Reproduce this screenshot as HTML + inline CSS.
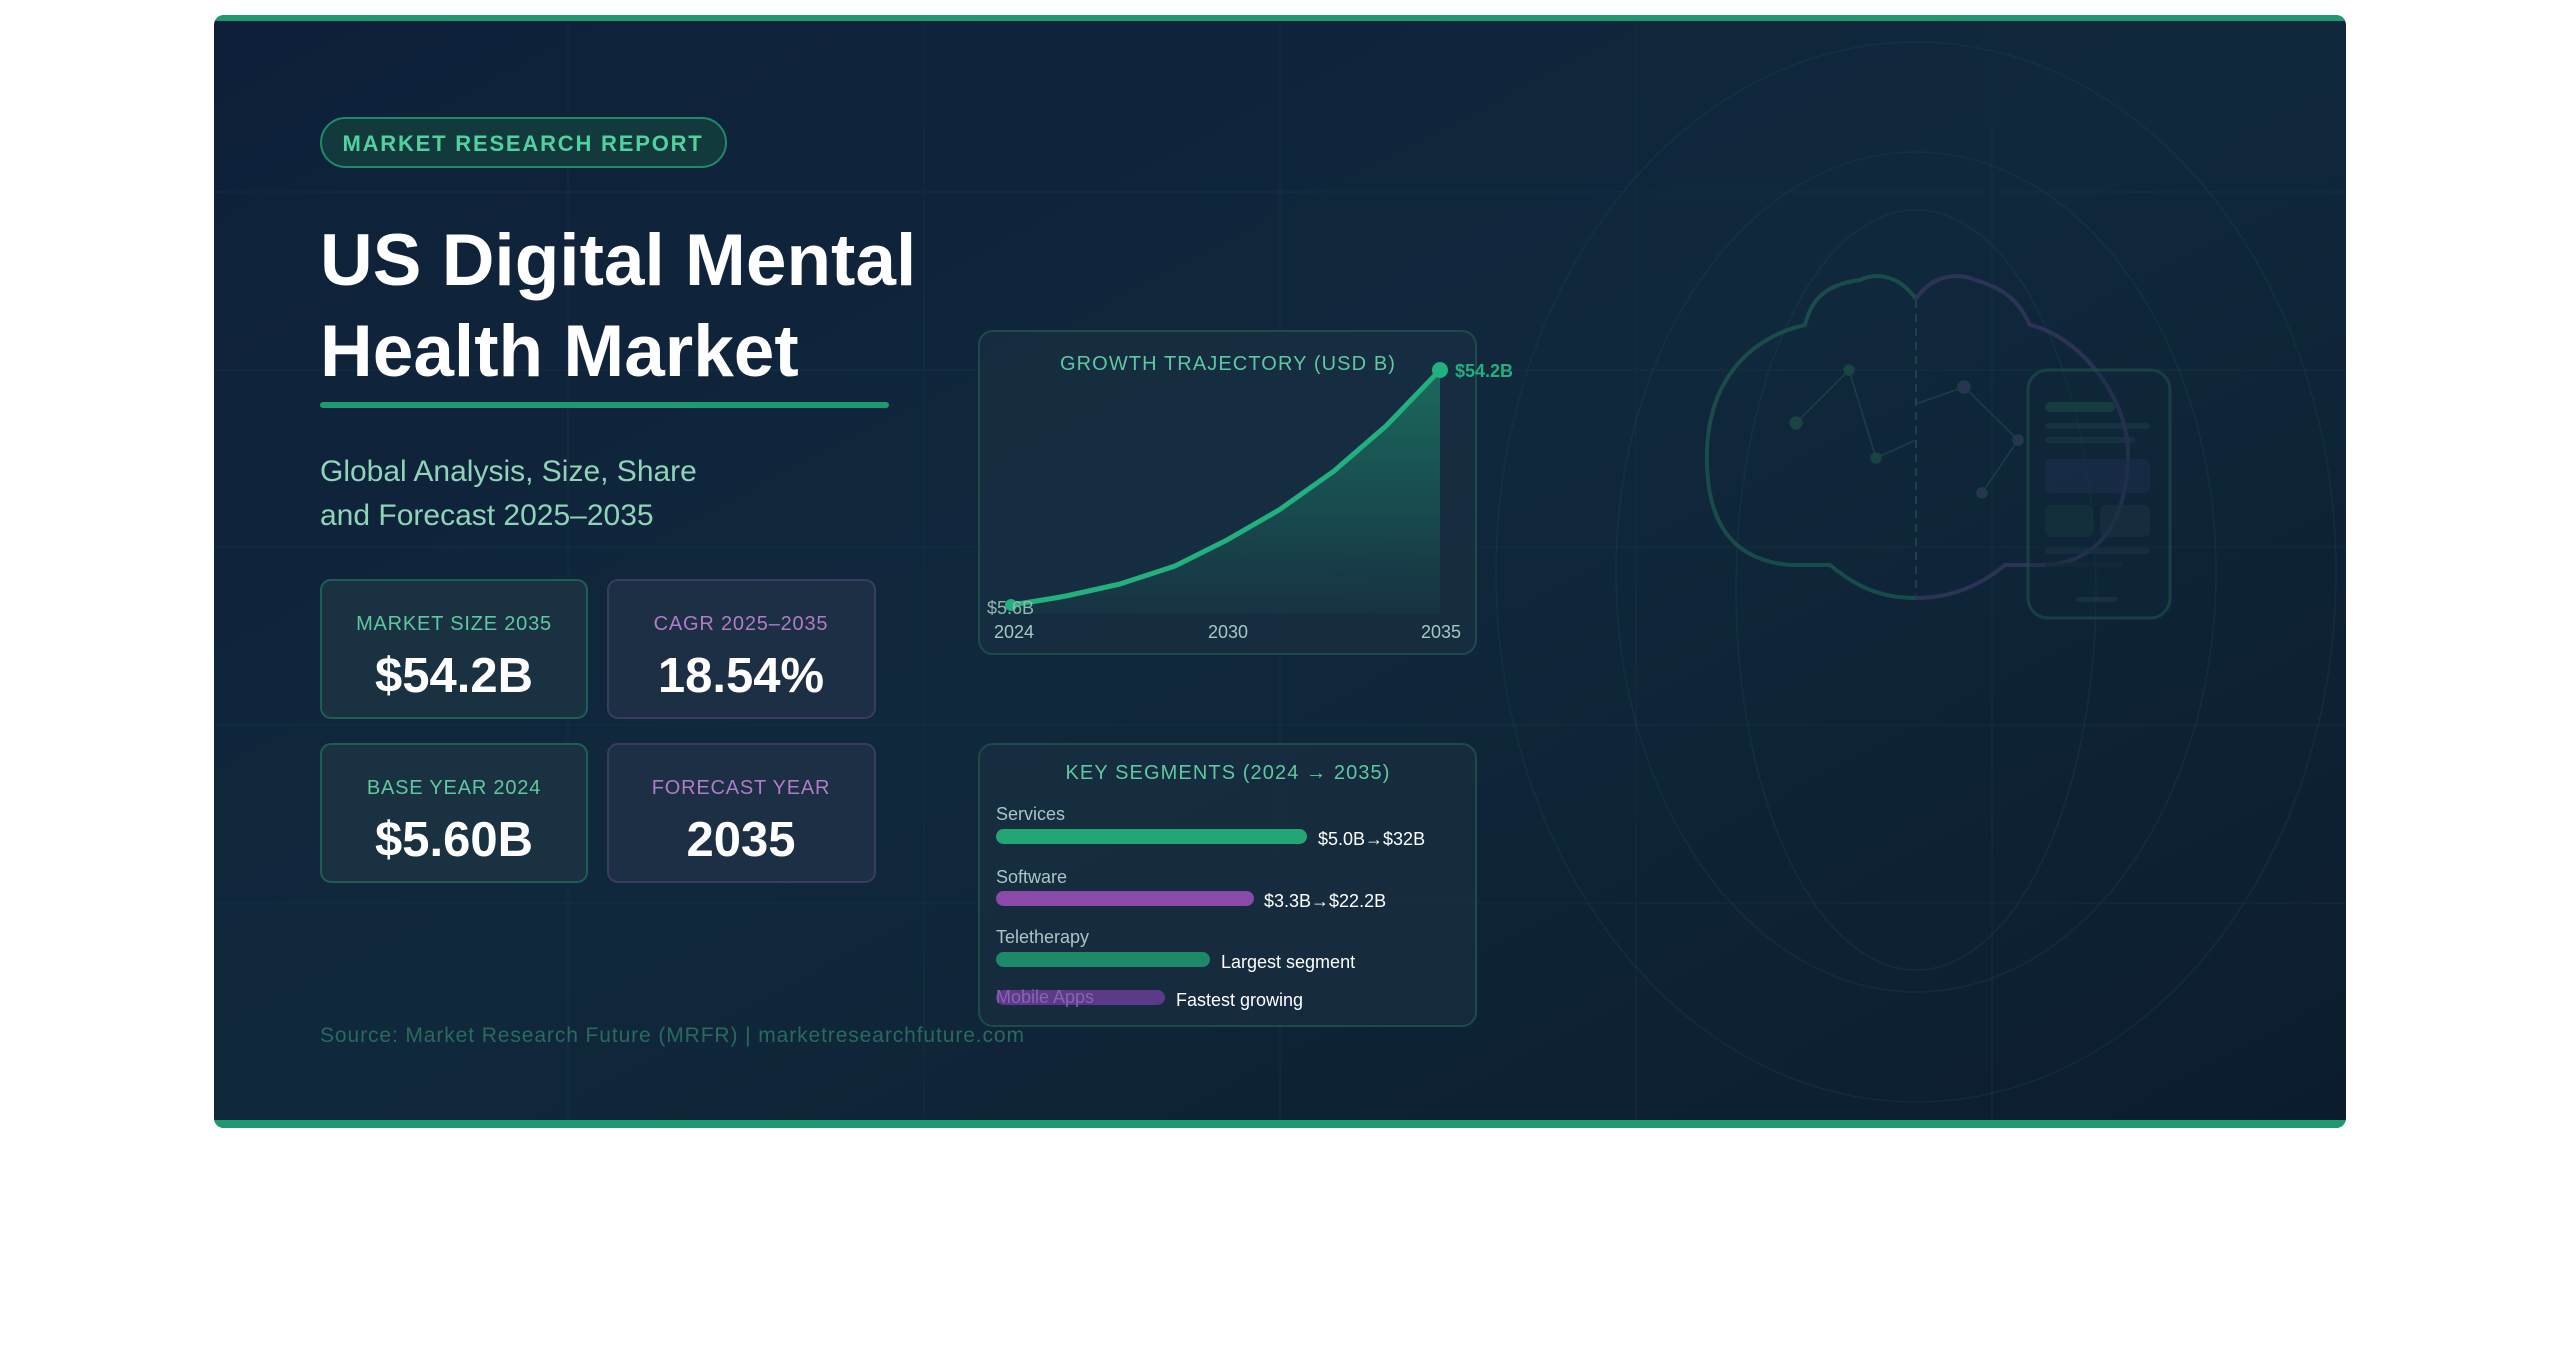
<!DOCTYPE html>
<html><head><meta charset="utf-8"><style>
html,body{margin:0;padding:0;background:#fff;width:2560px;height:1365px;overflow:hidden}
svg{display:block}
text{font-family:"Liberation Sans",sans-serif}
</style></head><body>
<svg width="2560" height="1365" viewBox="0 0 2560 1365" xmlns="http://www.w3.org/2000/svg">
<defs>
<linearGradient id="bg" x1="0" y1="0" x2="1" y2="1">
<stop offset="0" stop-color="#0e2039"/><stop offset="0.5" stop-color="#10283c"/><stop offset="1" stop-color="#0c1c2e"/>
</linearGradient>
<linearGradient id="area" x1="0" y1="0" x2="0" y2="1">
<stop offset="0" stop-color="#1fa67a" stop-opacity="0.5"/><stop offset="1" stop-color="#1fa67a" stop-opacity="0.05"/>
</linearGradient>
<clipPath id="card"><rect x="214" y="15" width="2132" height="1113" rx="10"/></clipPath>
</defs>
<g clip-path="url(#card)">
<rect x="214" y="15" width="2132" height="1113" fill="url(#bg)"/>
<g stroke="#1d3a4a" stroke-width="1.5" opacity="0.3">
<line x1="568" y1="15" x2="568" y2="1128"/><line x1="924" y1="15" x2="924" y2="1128"/>
<line x1="1280" y1="15" x2="1280" y2="1128"/><line x1="1636" y1="15" x2="1636" y2="1128"/>
<line x1="1992" y1="15" x2="1992" y2="1128"/>
<line x1="214" y1="192" x2="2346" y2="192"/><line x1="214" y1="370" x2="2346" y2="370"/>
<line x1="214" y1="547" x2="2346" y2="547"/><line x1="214" y1="725" x2="2346" y2="725"/>
<line x1="214" y1="903" x2="2346" y2="903"/>
</g>
<g fill="none" stroke="#1b4a4a" stroke-width="1.5" opacity="0.3">
<ellipse cx="1916" cy="572" rx="420" ry="530"/>
<ellipse cx="1916" cy="572" rx="300" ry="420"/>
<ellipse cx="1916" cy="590" rx="180" ry="380"/>
</g>
<rect x="214" y="15" width="2132" height="6" fill="#1f9a70"/>
<rect x="214" y="1120" width="2132" height="8" fill="#1f9a70"/>
</g>
<!-- brain -->
<g fill="none" stroke-width="4" opacity="0.75">
<path d="M1916 299 C1895 270 1870 275 1860 280 C1820 285 1810 305 1805 325 C1760 335 1710 370 1707 450 C1705 520 1730 560 1790 565 L1830 565 C1860 590 1885 598 1916 598" stroke="#1c5a50"/>
<path d="M1916 299 C1935 270 1965 275 1975 280 C2010 290 2020 305 2030 325 C2075 335 2125 390 2128 450 C2128 520 2100 565 2040 565 L2005 565 C1975 590 1945 598 1916 598" stroke="#37385f"/>
</g>
<line x1="1916" y1="300" x2="1916" y2="595" stroke="#2a4a55" stroke-width="2" stroke-dasharray="8 6" opacity="0.7"/>
<g stroke="#1d4a48" stroke-width="1.5" fill="#1c5045" opacity="0.75">
<line x1="1796" y1="423" x2="1849" y2="370"/><line x1="1849" y1="370" x2="1876" y2="458"/><line x1="1876" y1="458" x2="1916" y2="440"/>
<line x1="1916" y1="404" x2="1964" y2="387"/><line x1="1964" y1="387" x2="2018" y2="440"/><line x1="2018" y1="440" x2="1982" y2="493"/>
<circle cx="1796" cy="423" r="6"/><circle cx="1849" cy="370" r="5"/><circle cx="1876" cy="458" r="5"/>
<circle cx="1964" cy="387" r="6" fill="#34385c"/><circle cx="2018" cy="440" r="5" fill="#34385c"/><circle cx="1982" cy="493" r="5" fill="#34385c"/>
</g>
<g opacity="0.75">
<rect x="2028" y="370" width="142" height="248" rx="20" fill="#10283a" fill-opacity="0.4" stroke="#1b4a48" stroke-width="3"/>
<rect x="2045" y="402" width="70" height="10" rx="5" fill="#174540"/>
<rect x="2045" y="423" width="105" height="6" rx="3" fill="#1c3545"/>
<rect x="2045" y="437" width="90" height="6" rx="3" fill="#1c3545"/>
<rect x="2045" y="459" width="105" height="34" rx="6" fill="#1a2d48"/>
<rect x="2045" y="505" width="48" height="32" rx="6" fill="#15333d"/>
<rect x="2100" y="505" width="50" height="32" rx="6" fill="#18303f"/>
<rect x="2045" y="548" width="105" height="6" rx="3" fill="#1a3040"/>
<rect x="2045" y="562" width="78" height="5" rx="3" fill="#162a3a"/>
<rect x="2076" y="597" width="42" height="5" rx="3" fill="#1d3545"/>
</g>
<!-- badge -->
<rect x="321" y="118" width="405" height="49" rx="24.5" fill="#123a3c" stroke="#1f8a68" stroke-width="2"/>
<text x="523" y="151" text-anchor="middle" font-size="22" font-weight="bold" fill="#4fd1a0" letter-spacing="1.8">MARKET RESEARCH REPORT</text>
<text x="320" y="285" font-size="73" font-weight="bold" fill="#ffffff">US Digital Mental</text>
<text x="320" y="376" font-size="73" font-weight="bold" fill="#ffffff">Health Market</text>
<rect x="320" y="402" width="569" height="6" rx="3" fill="#1f9a70"/>
<text x="320" y="481" font-size="30" fill="#8fd3b8">Global Analysis, Size, Share</text>
<text x="320" y="525" font-size="30" fill="#8fd3b8">and Forecast 2025–2035</text>
<!-- stat boxes -->
<g stroke-width="2">
<rect x="321" y="580" width="266" height="138" rx="10" fill="#1a3142" stroke="#1d5e55"/>
<rect x="608" y="580" width="267" height="138" rx="10" fill="#1c2f44" stroke="#3c3a62"/>
<rect x="321" y="744" width="266" height="138" rx="10" fill="#1a3142" stroke="#1d5e55"/>
<rect x="608" y="744" width="267" height="138" rx="10" fill="#1c2f44" stroke="#3c3a62"/>
</g>
<g text-anchor="middle">
<text x="454" y="630" font-size="20" fill="#5ec9a0" letter-spacing="0.8">MARKET SIZE 2035</text>
<text x="741" y="630" font-size="20" fill="#b07cc8" letter-spacing="0.8">CAGR 2025–2035</text>
<text x="454" y="692" font-size="49" font-weight="bold" fill="#fff">$54.2B</text>
<text x="741" y="692" font-size="49" font-weight="bold" fill="#fff">18.54%</text>
<text x="454" y="794" font-size="20" fill="#5ec9a0" letter-spacing="0.8">BASE YEAR 2024</text>
<text x="741" y="794" font-size="20" fill="#b07cc8" letter-spacing="0.8">FORECAST YEAR</text>
<text x="454" y="856" font-size="49" font-weight="bold" fill="#fff">$5.60B</text>
<text x="741" y="856" font-size="49" font-weight="bold" fill="#fff">2035</text>
</g>
<!-- chart box -->
<rect x="979" y="331" width="497" height="323" rx="14" fill="#1a3142" fill-opacity="0.6" stroke="#1d4a4a" stroke-width="2"/>
<text x="1228" y="370" text-anchor="middle" font-size="20" fill="#5ec9a0" letter-spacing="1.1">GROWTH TRAJECTORY (USD B)</text>
<path d="M1011 605 C1030 602 1050 599 1066 596 L1120 584 L1175 566 L1227 540 L1279 510 L1334 471 L1386 426 L1440 370 L1440 614 L1011 614 Z" fill="url(#area)"/>
<path d="M1011 605 C1030 602 1050 599 1066 596 L1120 584 L1175 566 L1227 540 L1279 510 L1334 471 L1386 426 L1440 370" fill="none" stroke="#22b07f" stroke-width="5" stroke-linejoin="round"/>
<circle cx="1011" cy="605" r="6" fill="#22b07f"/>
<circle cx="1440" cy="370" r="8" fill="#22b07f"/>
<text x="1455" y="377" font-size="18" font-weight="bold" fill="#22b07f">$54.2B</text>
<text x="987" y="614" font-size="18" fill="#8fb8b0">$5.6B</text>
<g font-size="18" fill="#a9c6c4" text-anchor="middle">
<text x="1014" y="638">2024</text><text x="1228" y="638">2030</text><text x="1441" y="638">2035</text>
</g>
<!-- segments -->
<rect x="979" y="744" width="497" height="282" rx="14" fill="#1a3142" fill-opacity="0.6" stroke="#1d4a4a" stroke-width="2"/>
<text x="1228" y="779" text-anchor="middle" font-size="20" fill="#5ec9a0" letter-spacing="1.1">KEY SEGMENTS (2024 → 2035)</text>
<g font-size="18" fill="#a9c6c4">
<text x="996" y="820">Services</text>
<text x="996" y="883">Software</text>
<text x="996" y="943">Teletherapy</text>
</g>
<rect x="996" y="829" width="311" height="15" rx="7.5" fill="#22a676"/>
<rect x="996" y="891" width="258" height="15" rx="7.5" fill="#8a4aaa"/>
<rect x="996" y="952" width="214" height="15" rx="7.5" fill="#1c8a66"/>
<rect x="996" y="990" width="169" height="15" rx="7.5" fill="#5c3a8a"/>
<text x="996" y="1003" font-size="18" fill="#8a62b0">Mobile Apps</text>
<g font-size="18" fill="#ffffff">
<text x="1318" y="845">$5.0B→$32B</text>
<text x="1264" y="907">$3.3B→$22.2B</text>
<text x="1221" y="968">Largest segment</text>
<text x="1176" y="1006">Fastest growing</text>
</g>
<text x="320" y="1042" font-size="21" fill="#2a6a5c" letter-spacing="0.9">Source: Market Research Future (MRFR) | marketresearchfuture.com</text>
</svg>
</body></html>
